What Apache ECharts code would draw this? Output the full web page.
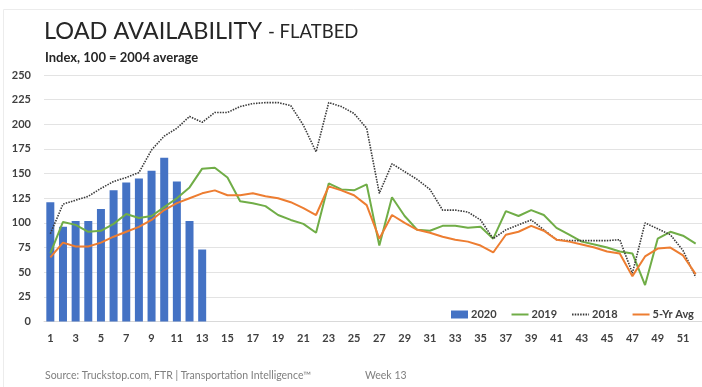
<!DOCTYPE html>
<html>
<head>
<meta charset="utf-8">
<script src="https://cdn.jsdelivr.net/npm/echarts@6/dist/echarts.min.js"></script>
<style>
html,body{margin:0;padding:0;background:#fff;}
#chart{width:702px;height:387px;}
</style>
</head>
<body>
<div id="chart"></div>
<script>
var weeks = [];
for (var w = 1; w <= 52; w++) weeks.push(String(w));

var yTicks = [0, 25, 50, 75, 100, 125, 150, 175, 200, 225, 250];

var values2020 = [121, 96, 102, 102, 114, 133, 141, 145, 153, 166, 142, 102, 73];

var values2019 = [69, 101, 98, 91, 92, 99, 109, 105, 107, 116, 125, 136, 155, 156, 146, 122,
  120, 117, 108, 103, 99, 90, 140, 134, 133, 139, 77, 126, 107, 93, 92, 97, 97, 95, 96, 84,
  112, 107, 113, 108, 95, 88, 81, 78, 75, 71, 69, 37, 84, 91, 87, 79];

var values2018 = [89, 119, 123, 127, 135, 142, 146, 151, 174, 188, 196, 208, 202, 212, 212, 218,
  221, 222, 222, 219, 199, 172, 222, 218, 211, 196, 130, 160, 152, 144, 134, 113, 113, 111, 103, 84,
  93, 98, 103, 93, 83, 82, 82, 82, 82, 83, 49, 100, 94, 88, 72, 45];

var values5yr = [65, 80, 76, 76, 80, 86, 91, 96, 103, 113, 120, 125, 130, 133, 128, 128,
  130, 127, 125, 121, 115, 108, 137, 133, 128, 118, 84, 108, 100, 93, 90, 86, 83, 81, 77, 70,
  88, 91, 97, 92, 83, 81, 78, 75, 71, 69, 46, 66, 74, 75, 67, 48];

var FONT = 'Lato, "Open Sans", sans-serif';

var chart = echarts.init(document.getElementById('chart'), null, {renderer: 'canvas'});
chart.setOption({
  animation: false,
  backgroundColor: '#ffffff',
  textStyle: {fontFamily: FONT},
  grid: {left: 44, top: 75, width: 660, height: 246.5},
  graphic: [
    {type: 'rect', shape: {x: 3.5, y: 9.5, width: 720, height: 400},
     style: {fill: 'none', stroke: '#ececec', lineWidth: 1}, silent: true},
    {type: 'text', style: {text: 'LOAD AVAILABILITY', x: 44, y: 43, textVerticalAlign: 'bottom',
      font: '23.5px ' + FONT, fill: '#262626'}},
    {type: 'text', style: {text: '- FLATBED', x: 268, y: 42, textVerticalAlign: 'bottom',
      font: '18.5px ' + FONT, fill: '#262626'}},
    {type: 'text', style: {text: 'Index, 100 = 2004 average', x: 45, y: 58, textVerticalAlign: 'middle',
      font: 'bold 13px ' + FONT, fill: '#262626'}},
    {type: 'text', style: {text: 'Source: Truckstop.com, FTR | Transportation Intelligence\u2122', x: 45, y: 376,
      textVerticalAlign: 'middle', font: '10.5px ' + FONT, fill: '#7f7f7f'}},
    {type: 'text', style: {text: 'Week 13', x: 365, y: 376,
      textVerticalAlign: 'middle', font: '10.5px ' + FONT, fill: '#7f7f7f'}}
  ],
  legend: {
    left: 446, top: 304,
    itemWidth: 17, itemHeight: 8, itemGap: 14,
    textStyle: {fontFamily: FONT, fontSize: 11, fontWeight: 'bold', color: '#404040', padding: [0, 0, 0, -2]},
    data: [
      {name: '2020', icon: 'rect'},
      {name: '2019', itemStyle: {opacity: 0}},
      {name: '2018', itemStyle: {opacity: 0}},
      {name: '5-Yr Avg', itemStyle: {opacity: 0}}
    ]
  },
  xAxis: {
    type: 'category',
    data: weeks,
    boundaryGap: true,
    axisLine: {show: true, lineStyle: {color: '#d9d9d9', width: 1}},
    axisTick: {show: false},
    axisLabel: {interval: 1, margin: 11, fontFamily: FONT, fontSize: 11, fontWeight: 'bold', color: '#404040'},
    splitLine: {show: false}
  },
  yAxis: {
    type: 'value',
    min: yTicks[0], max: yTicks[yTicks.length - 1], interval: 25,
    axisLine: {show: false},
    axisTick: {show: false},
    axisLabel: {margin: 13, fontFamily: FONT, fontSize: 11, fontWeight: 'bold', color: '#404040'},
    splitLine: {show: true, lineStyle: {color: '#e3e3e3', width: 1}}
  },
  series: [
    {name: '2020', type: 'bar', data: values2020, barWidth: 8,
     itemStyle: {color: '#4472c4'}, z: 1},
    {name: '2019', type: 'line', data: values2019, symbol: 'none', smooth: false,
     lineStyle: {color: '#70ad47', width: 2}, itemStyle: {color: '#70ad47'}, z: 3},
    {name: '2018', type: 'line', data: values2018, symbol: 'none',
     lineStyle: {color: '#3a3a3a', width: 1.6, type: [1.5, 1.2]}, itemStyle: {color: '#3a3a3a'}, z: 4},
    {name: '5-Yr Avg', type: 'line', data: values5yr, symbol: 'none',
     lineStyle: {color: '#ed7d31', width: 2}, itemStyle: {color: '#ed7d31'}, z: 5}
  ]
});
</script>
</body>
</html>
